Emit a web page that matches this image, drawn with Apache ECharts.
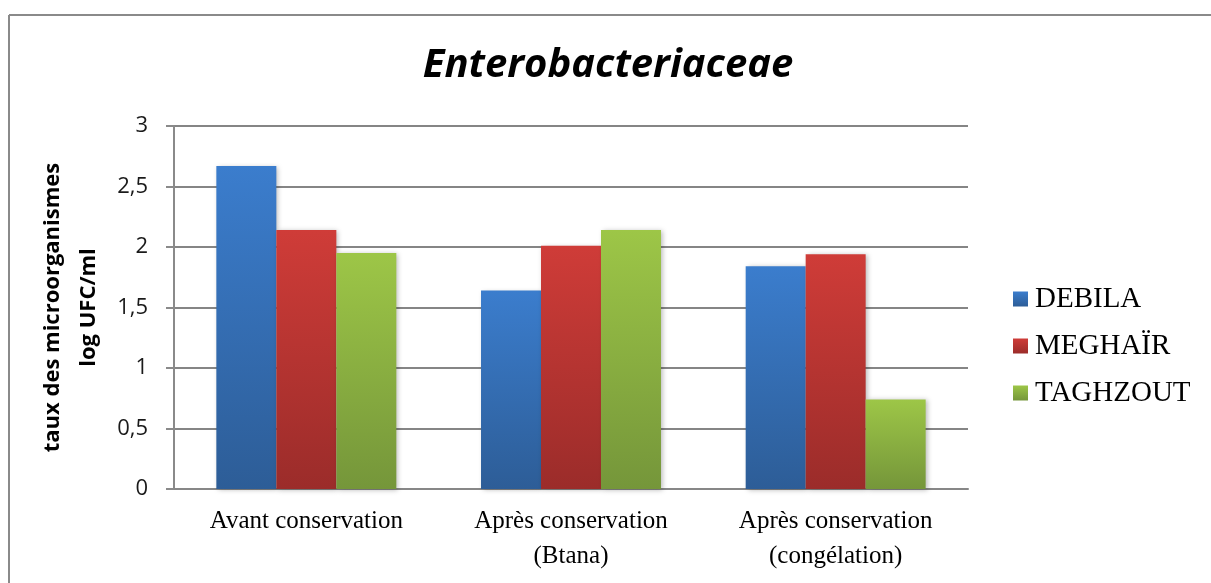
<!DOCTYPE html>
<html>
<head>
<meta charset="utf-8">
<script src="https://cdn.jsdelivr.net/npm/echarts@6/dist/echarts.min.js"></script>
<style>
  html, body { margin: 0; padding: 0; background: #ffffff; }
  #chart { width: 1211px; height: 583px; }
</style>
</head>
<body>
<div id="chart"></div>
<script>
// Enterobacteriaceae counts (log UFC/ml) per sample and storage stage
const categories = ['Avant conservation', 'Après conservation\n(Btana)', 'Après conservation\n(congélation)'];
const seriesNames = ['DEBILA', 'MEGHAÏR', 'TAGHZOUT'];
const debila = [2.67, 1.64, 1.84];
const meghair = [2.14, 2.01, 1.94];
const taghzout = [1.95, 2.14, 0.74];
const yTicks = { min: 0, max: 3, interval: 0.5 };

const chart = echarts.init(document.getElementById('chart'));

function grad(top, bottom) {
  return new echarts.graphic.LinearGradient(0, 0, 0, 1, [
    { offset: 0, color: top },
    { offset: 1, color: bottom }
  ]);
}

const palette = [
  grad('#3b7dcd', '#2d5d97'),
  grad('#cf3c38', '#9b2c2a'),
  grad('#9dc647', '#75963a')
];

const values = [debila, meghair, taghzout];

const barShadow = {
  shadowBlur: 5,
  shadowOffsetX: 2,
  shadowOffsetY: 1,
  shadowColor: 'rgba(0,0,0,0.28)'
};

chart.setOption({
  animation: false,
  backgroundColor: '#ffffff',
  title: {
    text: 'Enterobacteriaceae',
    left: 603,
    textAlign: 'center',
    top: 41,
    textStyle: {
      fontFamily: 'Open Sans',
      fontStyle: 'italic',
      fontWeight: 'bold',
      fontSize: 40,
      color: '#000000'
    }
  },
  legend: {
    orient: 'vertical',
    left: 1008,
    top: 279,
    itemWidth: 15,
    itemHeight: 15,
    itemGap: 17,
    icon: 'rect',
    data: seriesNames,
    textStyle: {
      fontFamily: 'Liberation Serif',
      fontSize: 29,
      lineHeight: 30,
      color: '#000000',
      padding: [0, 0, 0, 2]
    }
  },
  grid: { left: 174, right: 243, top: 126, bottom: 94, containLabel: false },
  xAxis: {
    type: 'category',
    data: categories,
    axisLine: { lineStyle: { color: '#878787', width: 2 } },
    axisTick: { show: false },
    axisLabel: {
      margin: 15,
      fontFamily: 'Liberation Serif',
      fontSize: 25,
      lineHeight: 35,
      color: '#000000'
    },
    splitLine: { show: false }
  },
  yAxis: {
    type: 'value',
    min: yTicks.min,
    max: yTicks.max,
    interval: yTicks.interval,
    name: 'taux des microorganismes\nlog UFC/ml',
    nameLocation: 'middle',
    nameRotate: 90,
    nameGap: 58,
    nameTextStyle: {
      fontFamily: 'Open Sans',
      fontWeight: 'bold',
      fontSize: 22,
      lineHeight: 36,
      color: '#000000'
    },
    axisLine: { show: true, lineStyle: { color: '#8a8a8a', width: 2 } },
    axisTick: { show: true, length: 8, lineStyle: { color: '#8a8a8a', width: 2 } },
    axisLabel: {
      margin: 26,
      fontFamily: 'Open Sans',
      fontSize: 22,
      color: '#1a1a1a',
      formatter: v => String(v).replace('.', ',')
    },
    splitLine: { lineStyle: { color: '#858585', width: 2 } }
  },
  graphic: [
    { type: 'line', shape: { x1: 9, y1: 15, x2: 1211, y2: 15 }, style: { stroke: '#8a8a8a', lineWidth: 2 } },
    { type: 'line', shape: { x1: 9, y1: 15, x2: 9, y2: 583 }, style: { stroke: '#8a8a8a', lineWidth: 2 } }
  ],
  series: seriesNames.map((name, i) => ({
    name,
    type: 'bar',
    data: values[i],
    barGap: '0%',
    barCategoryGap: '32%',
    itemStyle: Object.assign({ color: palette[i] }, barShadow)
  }))
});
</script>
</body>
</html>
